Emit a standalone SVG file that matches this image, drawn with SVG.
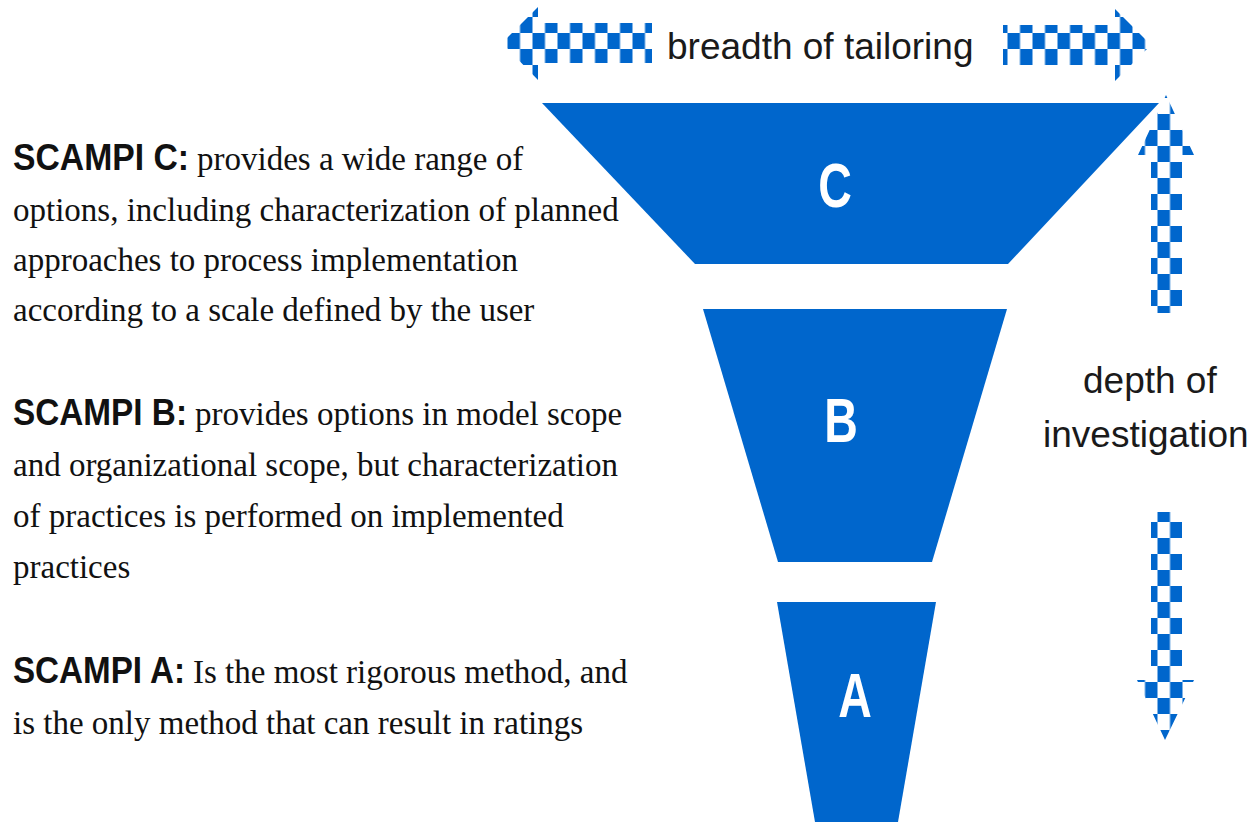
<svg xmlns="http://www.w3.org/2000/svg" width="1254" height="822" viewBox="0 0 1254 822">
  <style>
    .lvl { fill: #0066cc; }
    .lvl-letter { font-family: "Liberation Sans", Arial, sans-serif; font-weight: bold; font-size: 62px; fill: #ffffff; text-anchor: middle; }
    .tag { font-family: "Liberation Sans", Arial, sans-serif; font-weight: bold; font-size: 37.5px; fill: #111111; }
    .desc { font-family: "Liberation Serif", "Times New Roman", serif; font-size: 33px; fill: #111111; }
    .axis { font-family: "Liberation Sans", Arial, sans-serif; font-size: 37px; fill: #1a1a1a; }
  </style>
  <defs>
    <!-- blue/white checkerboard fills for the block arrows -->
    <pattern id="chkH" width="25" height="32" x="7.5" y="1" patternUnits="userSpaceOnUse">
      <rect width="12.5" height="16" fill="#0066cc"/>
      <rect x="12.5" y="16" width="12.5" height="16" fill="#0066cc"/>
    </pattern>
    <pattern id="chkUp" width="25" height="32" x="7.5" y="18" patternUnits="userSpaceOnUse">
      <rect width="12.5" height="16" fill="#0066cc"/>
      <rect x="12.5" y="16" width="12.5" height="16" fill="#0066cc"/>
    </pattern>
    <pattern id="chkDown" width="25" height="32" x="7.5" y="26" patternUnits="userSpaceOnUse">
      <rect width="12.5" height="16" fill="#0066cc"/>
      <rect x="12.5" y="16" width="12.5" height="16" fill="#0066cc"/>
    </pattern>
  </defs>

  <rect width="1254" height="822" fill="#ffffff"/>

  <!-- funnel levels -->
  <g id="node-c">
    <polygon class="lvl" points="542,103 1159,103 1008,264 695,264"/>
    <text class="lvl-letter" transform="translate(835,207) scale(0.75,1)">C</text>
  </g>
  <g id="node-b">
    <polygon class="lvl" points="703,309 1007,309 932,562 778,562"/>
    <text class="lvl-letter" transform="translate(841,442) scale(0.75,1)">B</text>
  </g>
  <g id="node-a">
    <polygon class="lvl" points="777,602 936,602 898,822 815,822"/>
    <text class="lvl-letter" transform="translate(855,717) scale(0.75,1)">A</text>
  </g>

  <!-- descriptions -->
  <g id="desc-c">
    <text class="tag" x="13" y="170" textLength="176" lengthAdjust="spacingAndGlyphs">SCAMPI C:</text>
    <text class="desc" x="197" y="170">provides a wide range of</text>
    <text class="desc" x="13" y="221">options, including characterization of planned</text>
    <text class="desc" x="13" y="271">approaches to process implementation</text>
    <text class="desc" x="13" y="321">according to a scale defined by the user</text>
  </g>
  <g id="desc-b">
    <text class="tag" x="13" y="425" textLength="174" lengthAdjust="spacingAndGlyphs">SCAMPI B:</text>
    <text class="desc" x="195" y="425">provides options in model scope</text>
    <text class="desc" x="13" y="476">and organizational scope, but characterization</text>
    <text class="desc" x="13" y="527">of practices is performed on implemented</text>
    <text class="desc" x="13" y="578">practices</text>
  </g>
  <g id="desc-a">
    <text class="tag" x="13" y="683" textLength="172" lengthAdjust="spacingAndGlyphs">SCAMPI A:</text>
    <text class="desc" x="193" y="683">Is the most rigorous method, and</text>
    <text class="desc" x="13" y="734">is the only method that can result in ratings</text>
  </g>

  <!-- axis labels -->
  <g id="axis-labels">
    <text class="axis" x="667" y="59">breadth of tailoring</text>
    <text class="axis" x="1083" y="393">depth of</text>
    <text class="axis" x="1043" y="447">investigation</text>
  </g>

  <!-- checkered direction arrows -->
  <g id="connectors">
    <polygon fill="url(#chkH)" points="502,43 538,7 538,23 652,23 652,63 538,63 538,80"/>
    <polygon fill="url(#chkH)" points="1003,25 1115,25 1115,9 1151,45 1115,81 1115,65 1003,65"/>
    <polygon fill="url(#chkUp)" points="1166,95 1194,155 1182,155 1182,313 1151,313 1151,155 1138,155"/>
    <polygon fill="url(#chkDown)" points="1151,512 1182,512 1182,680 1194,680 1165,740 1137,680 1151,680"/>
  </g>
</svg>
